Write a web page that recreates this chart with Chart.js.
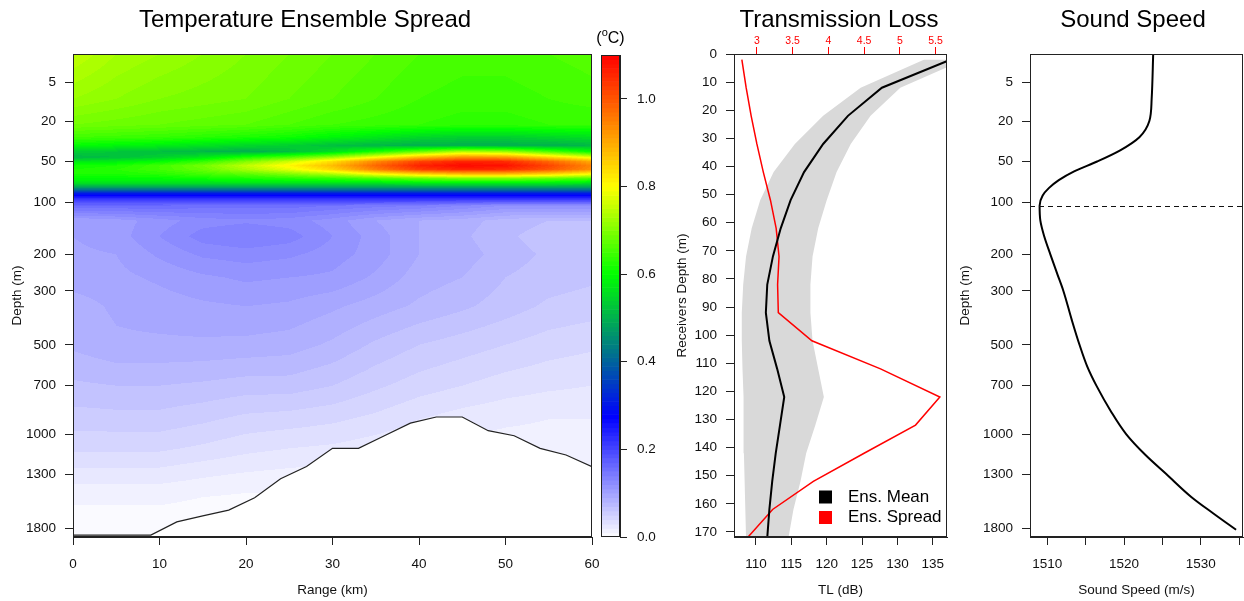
<!DOCTYPE html>
<html>
<head>
<meta charset="utf-8">
<script src="https://cdn.jsdelivr.net/npm/chart.js@4.4.0/dist/chart.umd.min.js"></script>
<style>
  html, body { margin: 0; padding: 0; background: #fff; }
  body { width: 1244px; height: 601px; position: relative; overflow: hidden; }
  canvas { position: absolute; top: 0; }
</style>
</head>
<body>
<canvas id="spread" width="610" height="601" style="left:0px"></canvas>
<canvas id="cbar" width="80" height="601" style="left:590px"></canvas>
<canvas id="tl" width="300" height="601" style="left:660px"></canvas>
<canvas id="ss" width="294" height="601" style="left:950px"></canvas>
<script>
// ---- depth axis shared by the spread and sound speed panels
const depthTicks = [5, 20, 50, 100, 200, 300, 500, 700, 1000, 1300, 1800];
const rangeTicks = [0, 10, 20, 30, 40, 50, 60];

// ---- temperature ensemble spread (degC): rows follow fieldDepth, columns fieldRange
const fieldRange = [0, 5, 10, 15, 20, 25, 30, 35, 40, 45, 50, 55, 60];
const fieldDepth = [0, 10, 22, 30, 36, 41, 46, 50, 54, 58, 63, 68, 74, 80, 87, 95, 105,
                    130, 160, 200, 260, 350, 500, 700, 900, 1100, 1300, 1500, 1900];
const fieldSpread = [
  [0.75, 0.73, 0.72, 0.71, 0.70, 0.69, 0.68, 0.67, 0.66, 0.655, 0.655, 0.66, 0.665],
  [0.72, 0.71, 0.70, 0.695, 0.69, 0.68, 0.67, 0.66, 0.65, 0.645, 0.645, 0.65, 0.655],
  [0.69, 0.685, 0.68, 0.675, 0.67, 0.66, 0.65, 0.645, 0.64, 0.635, 0.635, 0.64, 0.64],
  [0.65, 0.645, 0.64, 0.63, 0.62, 0.61, 0.59, 0.57, 0.55, 0.54, 0.54, 0.55, 0.56],
  [0.60, 0.59, 0.58, 0.565, 0.55, 0.54, 0.52, 0.51, 0.50, 0.50, 0.50, 0.50, 0.51],
  [0.54, 0.53, 0.52, 0.51, 0.50, 0.52, 0.56, 0.62, 0.68, 0.74, 0.72, 0.66, 0.60],
  [0.51, 0.52, 0.54, 0.57, 0.62, 0.66, 0.72, 0.80, 0.88, 0.93, 0.92, 0.85, 0.78],
  [0.57, 0.58, 0.60, 0.64, 0.70, 0.76, 0.84, 0.94, 1.02, 1.06, 1.05, 0.98, 0.90],
  [0.61, 0.62, 0.65, 0.69, 0.75, 0.81, 0.88, 0.98, 1.06, 1.09, 1.08, 1.02, 0.94],
  [0.62, 0.63, 0.65, 0.68, 0.73, 0.78, 0.85, 0.95, 1.03, 1.06, 1.05, 1.00, 0.93],
  [0.62, 0.62, 0.63, 0.65, 0.67, 0.70, 0.74, 0.80, 0.85, 0.88, 0.88, 0.85, 0.80],
  [0.60, 0.60, 0.60, 0.61, 0.62, 0.63, 0.64, 0.66, 0.68, 0.70, 0.70, 0.68, 0.66],
  [0.56, 0.56, 0.56, 0.56, 0.56, 0.56, 0.56, 0.56, 0.57, 0.57, 0.57, 0.57, 0.56],
  [0.46, 0.46, 0.46, 0.46, 0.46, 0.46, 0.46, 0.46, 0.46, 0.46, 0.46, 0.46, 0.46],
  [0.31, 0.31, 0.31, 0.31, 0.31, 0.31, 0.31, 0.31, 0.31, 0.31, 0.31, 0.31, 0.31],
  [0.22, 0.22, 0.22, 0.22, 0.22, 0.22, 0.22, 0.22, 0.22, 0.22, 0.22, 0.22, 0.22],
  [0.16, 0.16, 0.16, 0.155, 0.155, 0.155, 0.15, 0.145, 0.14, 0.13, 0.12, 0.12, 0.12],
  [0.10, 0.105, 0.115, 0.125, 0.128, 0.125, 0.115, 0.10, 0.09, 0.085, 0.075, 0.07, 0.07],
  [0.10, 0.105, 0.12, 0.135, 0.14, 0.135, 0.12, 0.105, 0.09, 0.082, 0.072, 0.065, 0.068],
  [0.098, 0.10, 0.112, 0.122, 0.125, 0.122, 0.115, 0.105, 0.09, 0.085, 0.075, 0.068, 0.068],
  [0.095, 0.097, 0.102, 0.108, 0.112, 0.11, 0.108, 0.098, 0.085, 0.08, 0.07, 0.065, 0.062],
  [0.085, 0.092, 0.095, 0.098, 0.10, 0.098, 0.092, 0.085, 0.078, 0.072, 0.065, 0.058, 0.055],
  [0.082, 0.088, 0.088, 0.088, 0.087, 0.085, 0.078, 0.068, 0.06, 0.055, 0.05, 0.045, 0.042],
  [0.068, 0.07, 0.07, 0.068, 0.065, 0.065, 0.06, 0.052, 0.045, 0.04, 0.035, 0.032, 0.03],
  [0.055, 0.056, 0.056, 0.052, 0.047, 0.045, 0.042, 0.037, 0.03, 0.025, 0.022, 0.02, 0.02],
  [0.042, 0.042, 0.042, 0.038, 0.033, 0.03, 0.028, 0.024, 0.02, 0.016, 0.015, 0.015, 0.012],
  [0.026, 0.026, 0.026, 0.022, 0.019, 0.017, 0.015, 0.013, 0.012, 0.01, 0.01, 0.01, 0.01],
  [0.012, 0.012, 0.012, 0.01, 0.008, 0.008, 0.006, 0.006, 0.005, 0.005, 0.005, 0.005, 0.005],
  [0.002, 0.002, 0.002, 0.002, 0.002, 0.002, 0.002, 0.002, 0.002, 0.002, 0.002, 0.002, 0.002]
];

// ---- bathymetry under the section
const bottomRange = [0, 3, 6, 9, 12, 15, 18, 21, 24, 27, 30, 33, 36, 39, 42, 45, 48, 51, 54, 57, 60];
const bottomDepth = [1870, 1870, 1870, 1870, 1735, 1675, 1620, 1505, 1340, 1240, 1100, 1100,
                     1010, 925, 885, 885, 975, 1010, 1100, 1150, 1240];

const cbarTicks = [0, 0.2, 0.4, 0.6, 0.8, 1.0];

// ---- transmission loss at receiver depths
const rxDepth = [2, 12, 22, 32, 42, 52, 62, 72, 82, 92, 102, 112, 122, 132, 142, 152, 162, 172];
const tlMean = [137.5, 127.8, 123.0, 119.5, 116.8, 114.9, 113.5, 112.4, 111.6, 111.4, 111.9, 113.0,
                114.0, 113.4, 112.8, 112.3, 111.9, 111.6];
const tlLow = [133.8, 124.8, 119.5, 115.5, 112.5, 110.6, 109.4, 108.6, 108.2, 108.0, 108.0, 108.1,
               108.2, 108.3, 108.3, 108.4, 108.5, 108.6];
const tlHigh = [139.5, 130.4, 126.2, 123.4, 121.4, 120.0, 118.8, 118.0, 117.7, 117.7, 118.0, 118.8,
                119.6, 118.4, 117.1, 116.3, 115.3, 114.6];
const tlSpread = [2.79, 2.85, 2.92, 3.00, 3.09, 3.19, 3.27, 3.31, 3.29, 3.30, 3.77, 4.73,
                  5.56, 5.22, 4.50, 3.79, 3.22, 2.87];
const tlTicks = [110, 115, 120, 125, 130, 135];
const tlSpreadTicks = [3, 3.5, 4, 4.5, 5, 5.5];
const rxTicks = [0, 10, 20, 30, 40, 50, 60, 70, 80, 90, 100, 110, 120, 130, 140, 150, 160, 170];

// ---- sound speed profile
const ssDepth = [0, 10, 20, 30, 40, 50, 60, 70, 80, 90, 105, 130, 160, 200, 250, 300, 400, 500,
                 600, 700, 850, 1000, 1150, 1300, 1500, 1650, 1815];
const ssSpeed = [1523.8, 1523.6, 1523.3, 1522.0, 1519.5, 1516.5, 1513.5, 1511.5, 1510.2, 1509.4,
                 1509.0, 1509.1, 1509.6, 1510.4, 1511.3, 1512.1, 1513.2, 1514.2, 1515.2, 1516.4,
                 1518.3, 1520.3, 1522.8, 1525.5, 1528.8, 1531.6, 1534.6];
const ssTicks = [1510, 1515, 1520, 1525, 1530, 1535];
const channelAxisDepth = 105;

// ---- helpers
const FONT = '"Liberation Sans", Arial, Helvetica, sans-serif';
Chart.defaults.font.family = FONT;
Chart.defaults.color = '#000';

const toT = d => Math.cbrt(d + 2);   // stretched depth axis
const LEVEL = 0.01;
const paletteAt = [0, 0.275, 0.6, 0.8, 1.1];
const paletteRgb = [[255, 255, 255], [0, 0, 255], [0, 255, 0], [255, 255, 0], [255, 0, 0]];

function spreadColor(v) {
  v = Math.min(1.1, Math.max(0, v));
  let i = 0;
  while (i < paletteAt.length - 2 && v > paletteAt[i + 1]) i++;
  const f = (v - paletteAt[i]) / (paletteAt[i + 1] - paletteAt[i]);
  return [0, 1, 2].map(n => Math.round(paletteRgb[i][n] + (paletteRgb[i + 1][n] - paletteRgb[i][n]) * f));
}

// fixed axis thickness, and no extra room reserved for overhanging labels
const fixedSize = px => scale => {
  if (scale.isHorizontal()) {
    scale.height = px;
    scale.paddingLeft = 0; scale.paddingRight = 0;
  } else {
    scale.width = px;
    scale.paddingTop = 0; scale.paddingBottom = 0;
  }
};
const tickSet = values => scale => { scale.ticks = values.map(v => ({ value: v })); };

function axis(extra) {
  const base = {
    type: 'linear',
    grid: { drawOnChartArea: false, tickLength: 8, color: '#222', tickWidth: 1 },
    border: { display: true, color: '#222' },
    ticks: { font: { size: 13.5 }, color: '#111', autoSkip: false, maxRotation: 0, padding: 9 },
    title: { display: true, font: { size: 13.5 }, color: '#111' }
  };
  return Object.assign(base, extra, {
    grid: Object.assign(base.grid, extra.grid || {}),
    ticks: Object.assign(base.ticks, extra.ticks || {}),
    title: Object.assign(base.title, extra.title || {})
  });
}

// ---- plugins
const frame = {
  id: 'frame',
  afterDraw(chart) {
    const { ctx, chartArea: a } = chart;
    ctx.save();
    ctx.strokeStyle = '#222';
    ctx.lineWidth = 1;
    ctx.strokeRect(a.left + 0.5, a.top + 0.5, a.right - a.left - 1, a.bottom - a.top - 1);
    ctx.restore();
  }
};

const panelTitle = {
  id: 'panelTitle',
  afterDraw(chart, args, opts) {
    const { ctx, chartArea: a } = chart;
    ctx.save();
    ctx.font = '24px ' + FONT;
    ctx.fillStyle = '#000';
    ctx.textAlign = 'center';
    ctx.textBaseline = 'middle';
    ctx.fillText(opts.text, (a.left + a.right) / 2 + (opts.dx || 0), 20);
    ctx.restore();
  }
};

const heatmap = {
  id: 'heatmap',
  beforeDatasetsDraw(chart) {
    const { ctx, chartArea: a, scales: { x, y } } = chart;
    const left = Math.round(a.left), top = Math.round(a.top);
    const w = Math.round(a.right) - left, h = Math.round(a.bottom) - top;
    const off = document.createElement('canvas');
    off.width = w; off.height = h;
    const octx = off.getContext('2d');
    const img = octx.createImageData(w, h);
    const rowT = fieldDepth.map(toT);
    for (let j = 0; j < h; j++) {
      const t = y.getValueForPixel(top + j + 0.5);
      let k = 0;
      while (k < rowT.length - 2 && t > rowT[k + 1]) k++;
      const fy = Math.min(1, Math.max(0, (t - rowT[k]) / (rowT[k + 1] - rowT[k])));
      for (let i = 0; i < w; i++) {
        const r = x.getValueForPixel(left + i + 0.5);
        let c = 0;
        while (c < fieldRange.length - 2 && r > fieldRange[c + 1]) c++;
        const fx = Math.min(1, Math.max(0, (r - fieldRange[c]) / (fieldRange[c + 1] - fieldRange[c])));
        const a0 = fieldSpread[k][c] * (1 - fx) + fieldSpread[k][c + 1] * fx;
        const a1 = fieldSpread[k + 1][c] * (1 - fx) + fieldSpread[k + 1][c + 1] * fx;
        const v = a0 * (1 - fy) + a1 * fy;
        const col = spreadColor((Math.floor(v / LEVEL) + 0.5) * LEVEL);
        const p = (j * w + i) * 4;
        img.data[p] = col[0]; img.data[p + 1] = col[1]; img.data[p + 2] = col[2]; img.data[p + 3] = 255;
      }
    }
    octx.putImageData(img, 0, 0);
    ctx.drawImage(off, left, top);
  }
};

const colourBar = {
  id: 'colourBar',
  beforeDatasetsDraw(chart) {
    const { ctx, chartArea: a, scales: { y } } = chart;
    const n = Math.round(1.1 / LEVEL);
    for (let i = 0; i < n; i++) {
      const v0 = i * LEVEL, v1 = (i + 1) * LEVEL;
      const p0 = y.getPixelForValue(v0), p1 = y.getPixelForValue(v1);
      const c = spreadColor((v0 + v1) / 2);
      ctx.fillStyle = `rgb(${c[0]},${c[1]},${c[2]})`;
      ctx.fillRect(a.left, p1, a.right - a.left, p0 - p1 + 0.6);
    }
  },
  afterDraw(chart) {
    const { ctx, chartArea: a } = chart;
    const cx = (a.left + a.right) / 2;
    ctx.save();
    ctx.fillStyle = '#000';
    ctx.textBaseline = 'alphabetic';
    ctx.font = '16px ' + FONT;
    const w1 = ctx.measureText('(').width, w3 = ctx.measureText('C)').width;
    ctx.font = '11px ' + FONT;
    const w2 = ctx.measureText('o').width;
    let x0 = cx - (w1 + w2 + w3) / 2;
    ctx.font = '16px ' + FONT;
    ctx.fillText('(', x0, 43);
    ctx.font = '11px ' + FONT;
    ctx.fillText('o', x0 + w1, 36);
    ctx.font = '16px ' + FONT;
    ctx.fillText('C)', x0 + w1 + w2, 43);
    ctx.restore();
  }
};

const tlLegend = {
  id: 'tlLegend',
  afterDraw(chart, args, opts) {
    const { ctx, chartArea: a } = chart;
    ctx.save();
    ctx.font = '17px ' + FONT;
    ctx.textBaseline = 'middle';
    opts.items.forEach((idx, k) => {
      const ds = chart.data.datasets[idx];
      const yc = a.bottom - 40 + k * 20.5;
      ctx.fillStyle = ds.borderColor;
      ctx.fillRect(a.right - 128, yc - 6.5, 13, 13);
      ctx.fillStyle = '#000';
      ctx.fillText(ds.label, a.right - 99, yc);
    });
    ctx.restore();
  }
};

const channelLine = {
  id: 'channelLine',
  afterDatasetsDraw(chart) {
    const { ctx, chartArea: a, scales: { y } } = chart;
    const py = Math.round(y.getPixelForValue(toT(channelAxisDepth))) + 0.5;
    ctx.save();
    ctx.strokeStyle = '#111';
    ctx.lineWidth = 1;
    ctx.setLineDash([5, 4]);
    ctx.beginPath();
    ctx.moveTo(a.left, py);
    ctx.lineTo(a.right, py);
    ctx.stroke();
    ctx.restore();
  }
};

const depthAxis = extra => axis(Object.assign({
  reverse: true,
  min: toT(0),
  max: toT(1890),
  afterBuildTicks: tickSet(depthTicks.map(toT)),
  ticks: { callback: (v, i) => depthTicks[i] },
  title: { text: 'Depth (m)' }
}, extra));

// ---- panel 1: temperature ensemble spread section
new Chart(document.getElementById('spread'), {
  type: 'line',
  data: {
    datasets: [{
      label: 'Bottom',
      data: bottomRange.map((r, i) => ({ x: r, y: toT(bottomDepth[i]) })),
      borderColor: '#222', borderWidth: 1.2, backgroundColor: '#fff',
      fill: 'start', pointRadius: 0, tension: 0
    }]
  },
  options: {
    responsive: false, animation: false,
    layout: { padding: { left: 0, right: 18, top: 54, bottom: 0 } },
    plugins: {
      legend: { display: false }, tooltip: { enabled: false },
      panelTitle: { text: 'Temperature Ensemble Spread', dx: -27.5 }
    },
    scales: {
      x: axis({
        min: 0, max: 60, afterBuildTicks: tickSet(rangeTicks), afterFit: fixedSize(64),
        ticks: { padding: 11 },
        title: { text: 'Range (km)', padding: { top: 0, bottom: 3 } }
      }),
      y: depthAxis({ afterFit: fixedSize(73), title: { text: 'Depth (m)', padding: { top: 9.5 } } })
    }
  },
  plugins: [heatmap, frame, panelTitle]
});

// ---- colour bar
new Chart(document.getElementById('cbar'), {
  type: 'line',
  data: { datasets: [] },
  options: {
    responsive: false, animation: false,
    layout: { padding: { left: 11, right: 0, top: 55, bottom: 64 } },
    plugins: { legend: { display: false }, tooltip: { enabled: false } },
    scales: {
      x: { type: 'linear', display: false, min: 0, max: 1 },
      y: axis({
        position: 'right', min: 0, max: 1.1,
        afterBuildTicks: tickSet(cbarTicks), afterFit: fixedSize(50),
        grid: { tickLength: 7 },
        ticks: { padding: 10, callback: v => v.toFixed(1) },
        title: { display: false }
      })
    }
  },
  plugins: [colourBar, frame]
});

// ---- panel 2: transmission loss
new Chart(document.getElementById('tl'), {
  type: 'line',
  data: {
    datasets: [
      { label: 'Ens. Mean', data: rxDepth.map((d, i) => ({ x: tlMean[i], y: d })),
        borderColor: '#000', borderWidth: 2, pointRadius: 0, fill: false, tension: 0 },
      { label: 'Ens. Spread', xAxisID: 'x2', data: rxDepth.map((d, i) => ({ x: tlSpread[i], y: d })),
        borderColor: '#ff0000', borderWidth: 1.5, pointRadius: 0, fill: false, tension: 0 },
      { label: 'low', data: rxDepth.map((d, i) => ({ x: tlLow[i], y: d })),
        borderWidth: 0, borderColor: 'rgba(0,0,0,0)', pointRadius: 0, fill: false, tension: 0 },
      { label: 'high', data: rxDepth.map((d, i) => ({ x: tlHigh[i], y: d })),
        borderWidth: 0, borderColor: 'rgba(0,0,0,0)', backgroundColor: '#d9d9d9',
        pointRadius: 0, fill: '-1', tension: 0 }
    ]
  },
  options: {
    responsive: false, animation: false, indexAxis: 'y',
    layout: { padding: { left: 0, right: 13, top: 0, bottom: 0 } },
    plugins: {
      legend: { display: false }, tooltip: { enabled: false },
      panelTitle: { text: 'Transmission Loss', dx: -1.5 },
      tlLegend: { items: [0, 1] }
    },
    scales: {
      x: axis({
        position: 'bottom', min: 106.9, max: 137.0,
        afterBuildTicks: tickSet(tlTicks), afterFit: fixedSize(64),
        ticks: { padding: 11 },
        title: { text: 'TL (dB)', padding: { top: 0, bottom: 3 } }
      }),
      x2: axis({
        position: 'top', min: 2.68, max: 5.66,
        afterBuildTicks: tickSet(tlSpreadTicks), afterFit: fixedSize(54),
        grid: { tickLength: 7, color: '#ff0000' },
        border: { display: false },
        ticks: { padding: 0, color: '#ff0000', font: { size: 10.5 }, callback: v => String(v) },
        title: { display: false }
      }),
      y: axis({
        reverse: true, min: 0, max: 171.8,
        afterBuildTicks: tickSet(rxTicks), afterFit: fixedSize(74),
        title: { text: 'Receivers Depth (m)', padding: { top: 14 } }
      })
    }
  },
  plugins: [frame, panelTitle, tlLegend]
});

// ---- panel 3: sound speed profile
new Chart(document.getElementById('ss'), {
  type: 'line',
  data: {
    datasets: [{
      label: 'Sound speed',
      data: ssDepth.map((d, i) => ({ x: ssSpeed[i], y: toT(d) })),
      borderColor: '#000', borderWidth: 2, pointRadius: 0, fill: false,
      cubicInterpolationMode: 'monotone'
    }]
  },
  options: {
    responsive: false, animation: false, indexAxis: 'y',
    layout: { padding: { left: 0, right: 1, top: 54, bottom: 0 } },
    plugins: {
      legend: { display: false }, tooltip: { enabled: false },
      panelTitle: { text: 'Sound Speed', dx: -3.5 }
    },
    scales: {
      x: axis({
        min: 1507.75, max: 1535.5,
        afterBuildTicks: tickSet(ssTicks), afterFit: fixedSize(64),
        ticks: { padding: 11, callback: v => (v % 10 === 0 ? v : '') },
        title: { text: 'Sound Speed (m/s)', padding: { top: 0, bottom: 3 } }
      }),
      y: depthAxis({ afterFit: fixedSize(80), title: { text: 'Depth (m)', padding: { top: 7 } } })
    }
  },
  plugins: [frame, panelTitle, channelLine]
});
</script>
</body>
</html>
